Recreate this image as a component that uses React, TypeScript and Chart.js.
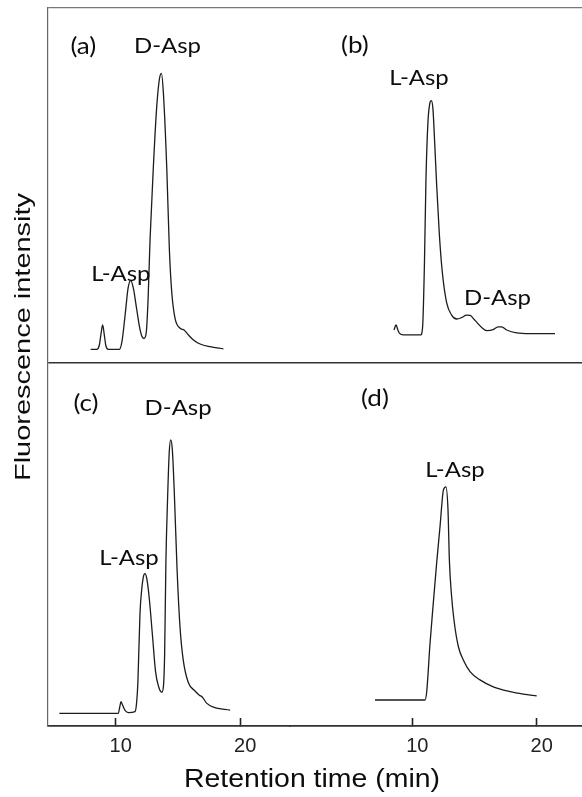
import React, { useEffect, useRef } from 'react';
import { Chart, registerables } from 'chart.js';

Chart.register(...registerables);

// ---- Data (retention time in min, fluorescence in arbitrary units 0-100 per row) ----
// Panel (a)
const timeA = [7.99, 8.47, 8.68, 8.85, 8.95, 9.08, 9.2, 9.41, 10.29, 10.5, 10.77, 10.99, 11.2, 11.42, 11.69, 11.95, 12.15, 12.27, 12.45, 12.6, 12.76, 13.02, 13.29, 13.51, 13.67, 13.83, 14.1, 14.31, 14.5, 14.77, 15.17, 15.49, 15.84, 16.24, 16.78, 17.58, 18.65];
const signalA = [3.85, 3.85, 5.0, 9.0, 10.7, 8.0, 5.0, 3.85, 3.85, 6.0, 14.0, 21.0, 23.2, 21.0, 15.0, 9.5, 7.2, 6.95, 8.5, 18, 35, 55, 72, 80, 81.6, 76, 55, 32, 20, 12.5, 9.8, 9.3, 7.9, 6.5, 5.35, 4.6, 4.0];
// Panel (b)
const timeB = [8.53, 8.69, 8.85, 8.96, 9.28, 10.67, 10.83, 10.97, 11.1, 11.26, 11.4, 11.53, 11.66, 11.8, 11.96, 12.17, 12.4, 12.76, 13.16, 13.57, 13.97, 14.35, 14.64, 15.04, 15.58, 16.0, 16.5, 16.9, 17.18, 17.59, 18.39, 19.46, 21.47];
const signalB = [9.3, 10.7, 9.2, 8.4, 7.9, 7.9, 10.2, 27, 52, 68, 73, 73.9, 71.5, 62, 50, 36.5, 26, 17, 13.5, 12.4, 12.8, 13.5, 13.4, 12.0, 10.0, 9.1, 9.4, 10.2, 10.2, 9.3, 8.5, 8.3, 8.3];
// Panel (c)
const timeC = [5.47, 10.21, 10.32, 10.43, 10.52, 10.75, 11.02, 11.55, 11.68, 11.78, 11.95, 12.1, 12.25, 12.36, 12.5, 12.7, 12.95, 13.2, 13.45, 13.7, 13.83, 13.93, 14.03, 14.16, 14.3, 14.42, 14.55, 14.71, 14.93, 15.17, 15.43, 15.83, 16.35, 16.72, 16.95, 17.3, 17.85, 19.19];
const signalC = [3.49, 3.49, 5.2, 6.7, 6.0, 4.3, 3.7, 3.95, 6.5, 12, 31, 38, 41.5, 42.0, 40.5, 35, 25, 15, 10.8, 9.3, 10.8, 20, 45, 62, 75.5, 78.8, 76, 64, 43, 27, 18, 12, 9.7, 8.5, 8.0, 6.3, 5.2, 4.4];
// Panel (d)
const timeD = [7.0, 11.02, 11.16, 11.42, 11.69, 11.96, 12.23, 12.5, 12.7, 12.87, 12.98, 13.14, 13.35, 13.7, 14.1, 14.64, 15.44, 16.51, 17.85, 18.93, 20.0];
const signalD = [7.16, 7.16, 9.5, 22.5, 34, 45, 55, 65, 65.9, 59.5, 45.7, 36.5, 29.2, 21.9, 18.2, 15.0, 12.7, 10.8, 9.5, 8.8, 8.3];

const xTickValues = [10, 20];

// Annotation texts anchored in data units (panel, retention time, level)
const labelText = ['(a)', 'D-Asp', 'L-Asp', '(b)', 'L-Asp', 'D-Asp', '(c)', 'D-Asp', 'L-Asp', '(d)', 'L-Asp'];
const labelPanel = ['a', 'a', 'a', 'b', 'b', 'b', 'c', 'c', 'c', 'd', 'd'];
const labelTime = [7.4, 14.16, 10.41, 5.39, 10.54, 16.85, 7.61, 15.01, 11.07, 7.0, 13.43];
const labelLevel = [87.0, 87.2, 23.0, 87.3, 78.3, 16.3, 86.8, 85.7, 44.4, 88.2, 68.7];

const xTitle = 'Retention time (min)';
const yTitle = 'Fluorescence intensity';

const toPoints = (t: number[], v: number[]) => t.map((x, i) => ({ x, y: v[i] }));

const textPlugin = {
  id: 'panelText',
  afterDraw(chart: any) {
    const ctx = chart.ctx as CanvasRenderingContext2D;
    const sc = chart.scales;
    const area = chart.chartArea;
    ctx.save();
    ctx.fillStyle = '#0d0d0d';
    ctx.textAlign = 'center';
    ctx.textBaseline = 'alphabetic';

    // Peak / panel labels
    const labFont = "22px Lato, 'Open Sans', sans-serif";
    const tagFont = "24px Lato, 'Open Sans', sans-serif";
    ctx.font = labFont;
    const sxLab = 67 / ctx.measureText('D-Asp').width;
    labelText.forEach((txt, i) => {
      const p = labelPanel[i];
      const xs = p === 'a' || p === 'c' ? sc.xL : sc.xR;
      const ys = p === 'a' || p === 'b' ? sc.yT : sc.yB;
      const x = xs.getPixelForValue(labelTime[i]);
      const y = ys.getPixelForValue(labelLevel[i]);
      ctx.save();
      ctx.font = txt.startsWith('(') ? tagFont : labFont;
      ctx.translate(x, y);
      ctx.scale(sxLab, 1);
      ctx.fillText(txt, 0, 0);
      ctx.restore();
    });

    // X title
    ctx.font = "25px 'Liberation Sans', Arial, sans-serif";
    const sxX = 256 / ctx.measureText(xTitle).width;
    ctx.save();
    ctx.translate((area.left + area.right) / 2 - 3, chart.height - 10);
    ctx.scale(sxX, 1);
    ctx.fillText(xTitle, 0, 0);
    ctx.restore();

    // Y title
    ctx.font = "22px 'Liberation Sans', Arial, sans-serif";
    const sxY = 288 / ctx.measureText(yTitle).width;
    ctx.save();
    ctx.translate(area.left - 18, (area.top + area.bottom) / 2 - 30);
    ctx.rotate(-Math.PI / 2);
    ctx.scale(sxY, 1);
    ctx.fillText(yTitle, 0, 0);
    ctx.restore();

    ctx.restore();
  },
};

const lineStyle = {
  borderColor: '#1c1c1c',
  borderWidth: 1.3,
  pointRadius: 0,
  fill: false,
  cubicInterpolationMode: 'monotone' as const,
};

const xAxis = (weight: number, stackWeight: number, min: number, max: number) => ({
  type: 'linear' as const,
  position: 'bottom' as const,
  stack: 'time',
  stackWeight,
  weight,
  min,
  max,
  afterBuildTicks: (s: any) => {
    s.ticks = xTickValues.map((v) => ({ value: v }));
  },
  afterFit: (s: any) => {
    s.height = 71;
    s.paddingLeft = 0;
    s.paddingRight = 0;
  },
  grid: {
    display: true,
    drawOnChartArea: false,
    drawTicks: true,
    tickLength: -8,
    tickWidth: 1.6,
    tickColor: '#222',
  },
  border: { display: true, color: '#333', width: 1.5 },
  ticks: {
    padding: 16,
    labelOffset: 5,
    color: '#222',
    autoSkip: false,
    maxRotation: 0,
    font: { family: "'Liberation Sans', Arial, sans-serif", size: 20 },
  },
});

const yAxis = (weight: number, stackWeight: number, tickVals: number[], color: string, width: number) => ({
  type: 'linear' as const,
  position: 'left' as const,
  stack: 'signal',
  stackWeight,
  weight,
  min: 0,
  max: 100,
  afterBuildTicks: (s: any) => {
    s.ticks = tickVals.map((v) => ({ value: v }));
  },
  afterFit: (s: any) => {
    s.width = 0;
    s.paddingTop = 0;
    s.paddingBottom = 0;
  },
  ticks: { display: false },
  grid: { display: true, drawTicks: false, drawOnChartArea: true, color, lineWidth: width },
  border: { display: true, color: '#666', width: 1.2 },
});

export default function App() {
  const canvasRef = useRef<HTMLCanvasElement | null>(null);

  useEffect(() => {
    if (!canvasRef.current) return;
    const chart = new Chart(canvasRef.current, {
      type: 'line',
      data: {
        datasets: [
          { ...lineStyle, data: toPoints(timeA, signalA), xAxisID: 'xL', yAxisID: 'yT' },
          { ...lineStyle, data: toPoints(timeB, signalB), xAxisID: 'xR', yAxisID: 'yT' },
          { ...lineStyle, data: toPoints(timeC, signalC), xAxisID: 'xL', yAxisID: 'yB' },
          { ...lineStyle, data: toPoints(timeD, signalD), xAxisID: 'xR', yAxisID: 'yB' },
        ],
      },
      options: {
        animation: false,
        responsive: false,
        devicePixelRatio: 1,
        layout: { padding: { left: 48, top: 8, right: 0, bottom: 0 } },
        plugins: { legend: { display: false }, tooltip: { enabled: false } },
        scales: {
          xL: xAxis(0, 242, 4.56, 24.0),
          xR: xAxis(1, 292, 0.17, 23.64),
          yT: yAxis(1, 355, [100], '#777', 1.2),
          yB: yAxis(0, 363, [0, 100], '#333', 1.5),
        },
      } as any,
      plugins: [textPlugin],
    });
    return () => chart.destroy();
  }, []);

  return (
    <div style={{ position: 'absolute', left: 0, top: 0, width: 582, height: 797, background: '#fff' }}>
      <canvas ref={canvasRef} width={582} height={797} style={{ display: 'block' }} />
    </div>
  );
}
